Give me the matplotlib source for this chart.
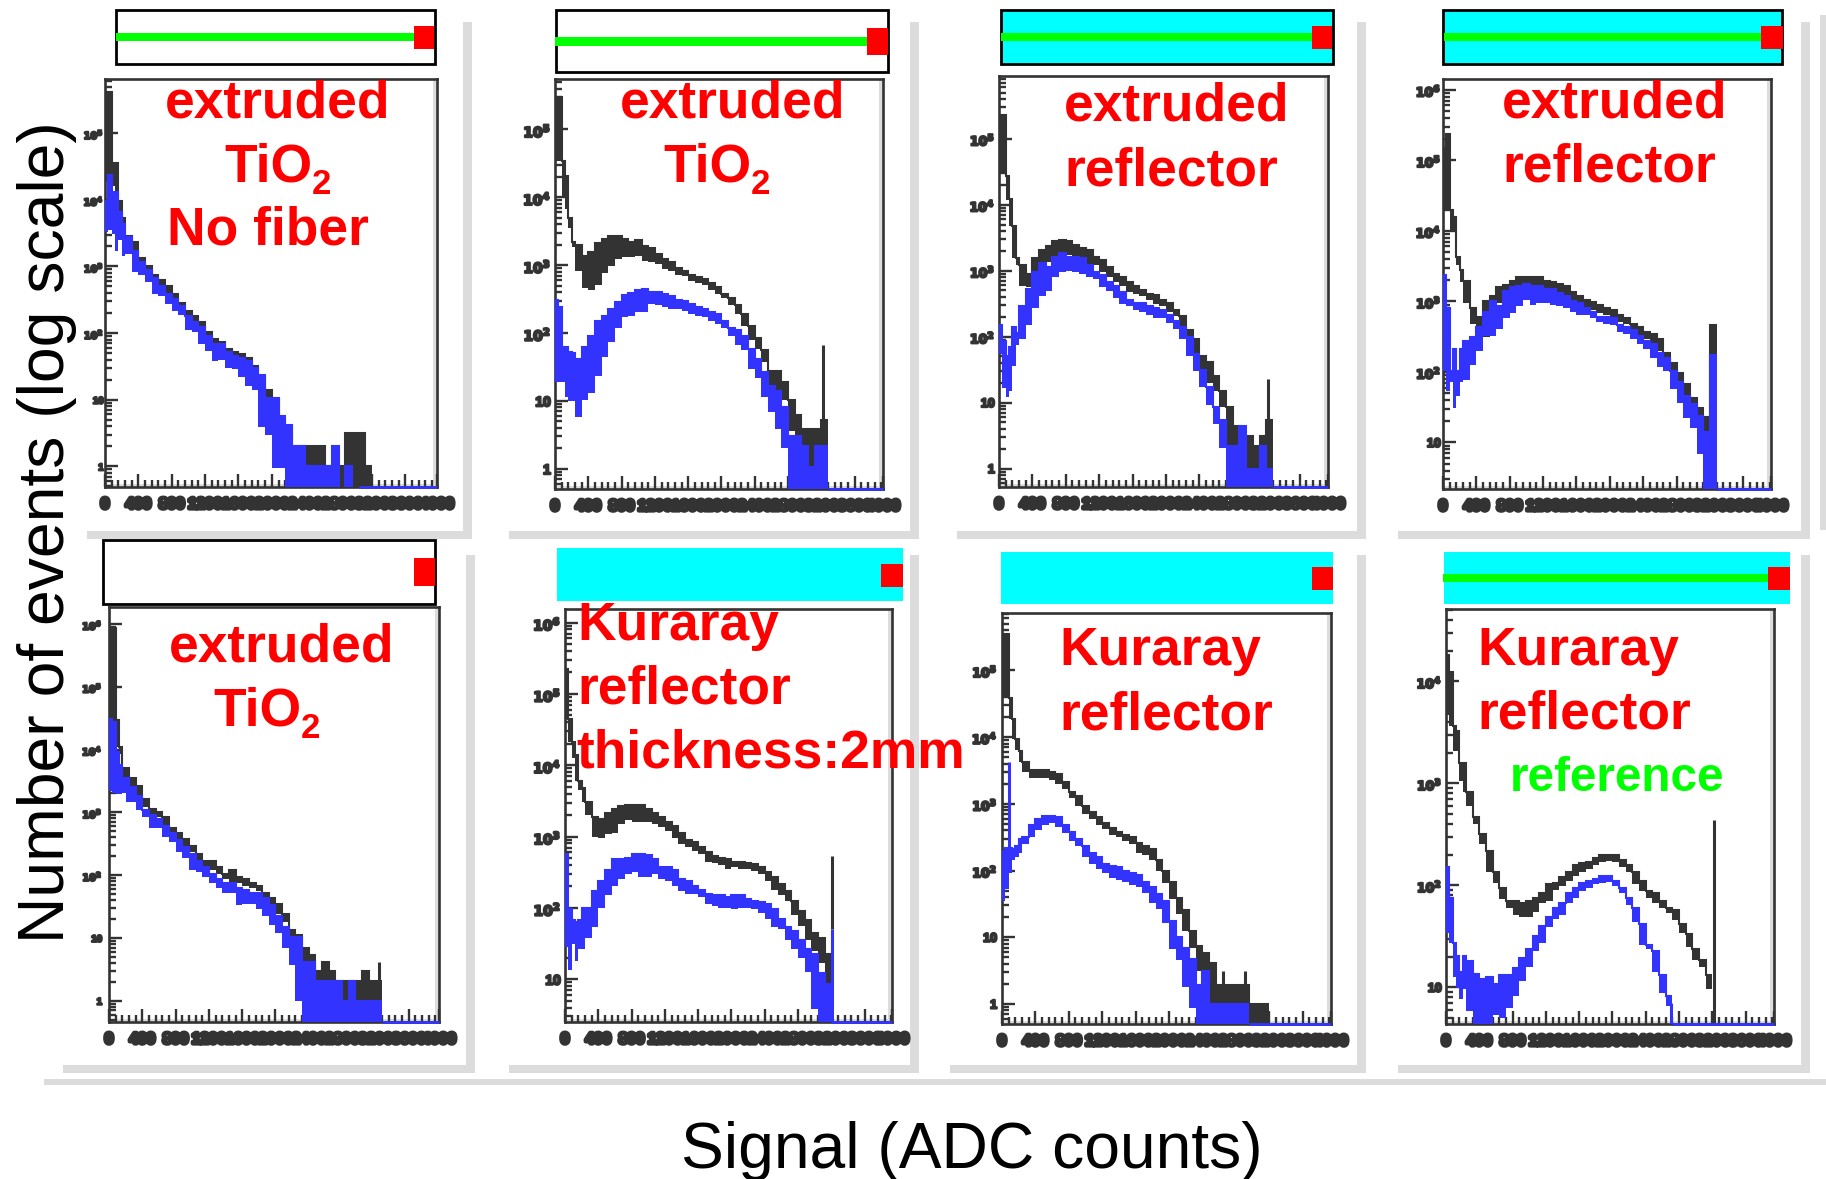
import numpy as np
import matplotlib
matplotlib.use("Agg")
import matplotlib.pyplot as plt
from matplotlib.patches import Rectangle
from matplotlib.transforms import Bbox
import matplotlib.patheffects as pe

W, H = 1826, 1179
plt.rcParams['font.family'] = ['Liberation Sans', 'DejaVu Sans']

# ---- histogram bins in ADC counts, shared by all panels
bin_edges = [0, 40, 80, 120, 160, 200, 240] + list(range(320, 4001, 80))

# log10(counts): upper / lower envelope per bin (-1 = empty bin)
p1_black_hi = [5.61,5.61,4.55,4.55,3.98,3.72,3.46,3.36,3.13,3.00,2.87,2.79,2.71,2.58,2.45,2.33,2.25,2.17,2.02,1.91,1.86,1.76,1.71,1.68,1.63,1.50,1.34,1.14,1.01,0.70,0.59,0.31,0.31,0.31,0.31,0.31,0,0,0,0.5,0.5,0.5,0]
p1_black_lo = [4.3,4.3,4.2,3.9,3.6,3.5,3.3,3.2,3.0,2.9,2.8,2.7,2.6,2.5,2.4,2.25,2.15,2.05,1.95,1.85,1.75,1.7,1.62,1.6,1.5,1.4,1.2,1.0,0.8,0.5,0.3,-1,-1,-1,-1,-1,-1,-1,-1,-1,-1,-1,-1]
p1_blue_hi = [3.98,4.37,4.11,4.11,3.82,3.64,3.44,3.23,3.07,2.95,2.82,2.71,2.58,2.51,2.40,2.25,2.17,2.09,1.96,1.83,1.83,1.71,1.65,1.63,1.58,1.47,1.37,1.03,1.03,0.75,0.62,0.31,0.31,0,0,0,0,0.31,-1,0,-1]
p1_blue_lo = [3.51,3.54,3.49,3.23,3.39,3.15,3.18,2.92,2.87,2.76,2.58,2.56,2.43,2.33,2.27,2.04,2.02,1.83,1.73,1.58,1.60,1.47,1.46,1.34,1.21,1.14,0.59,0.47,-0.02,-0.02,-1,-1,-1,-1,-1,-1,-1,-1,-1,-1,-1]

p2_black_hi = [5.47,5.47,4.53,4.31,3.70,3.34,3.29,3.14,3.19,3.32,3.39,3.43,3.43,3.39,3.34,3.37,3.28,3.25,3.17,3.09,3.04,2.96,2.91,2.86,2.82,2.79,2.73,2.67,2.58,2.51,2.41,2.28,2.10,1.93,1.75,1.44,1.44,1.27,1.01,0.79,0.58,0.58,0.58,0.71]
p2_black_lo = [4.53,4.53,4.0,3.82,3.55,3.27,2.91,2.66,2.63,2.71,2.89,2.99,3.09,3.12,3.12,3.14,3.06,3.04,3.01,2.94,2.91,2.86,2.84,2.76,2.74,2.71,2.64,2.58,2.51,2.41,2.28,2.10,1.90,1.77,1.57,1.19,1.14,1.01,0.56,0,0.33,0,0,0.33]
p2_blue_hi = [2.48,2.38,1.80,1.80,1.72,1.70,1.62,1.80,1.95,2.18,2.25,2.36,2.46,2.56,2.59,2.63,2.65,2.61,2.61,2.58,2.54,2.49,2.47,2.43,2.38,2.36,2.31,2.28,2.18,2.08,2.05,1.95,1.77,1.62,1.42,1.22,1.14,0.91,0.48,0.48,0.33,0.03,0.33,0.33]
p2_blue_lo = [1.27,1.27,1.27,1.06,0.99,0.99,0.76,1.01,1.11,1.37,1.65,1.87,2.08,2.23,2.25,2.31,2.31,2.43,2.41,2.38,2.36,2.36,2.33,2.28,2.25,2.23,2.18,2.13,2.08,1.95,1.82,1.75,1.47,1.34,1.06,0.84,0.58,0.30,-1,-1,-1,-1,-1,-1]

p3_black_hi = [5.36,5.36,4.43,4.09,3.68,3.19,3.08,2.95,3.19,3.32,3.38,3.45,3.47,3.45,3.39,3.34,3.31,3.21,3.16,3.06,2.95,2.90,2.82,2.76,2.70,2.65,2.63,2.56,2.51,2.41,2.31,2.10,1.97,1.71,1.61,1.40,1.17,0.93,0.65,0.31,0.49,0.34,0.49,0.73]
p3_black_lo = [4.46,4.46,4.07,3.68,3.19,3.08,2.77,2.75,2.90,3.06,3.13,3.19,3.24,3.24,3.21,3.19,3.08,3.08,2.98,2.90,2.82,2.77,2.67,2.64,2.62,2.56,2.49,2.46,2.38,2.31,2.15,1.94,1.71,1.48,1.30,1.17,0.93,0.31,-1,-1,0,-1,0,0]
p3_blue_hi = [2.18,1.94,1.71,1.84,2.15,2.05,2.46,2.72,2.98,3.11,3.06,3.21,3.26,3.21,3.21,3.19,3.08,2.98,2.93,2.82,2.77,2.67,2.56,2.51,2.51,2.46,2.44,2.41,2.33,2.23,2.15,1.99,1.74,1.50,1.24,0.93,0.73,0.34,0.34,0.65,0,0,0.34,0]
p3_blue_lo = [1.74,1.22,1.09,1.17,1.55,1.87,1.97,2.18,2.44,2.62,2.69,2.90,2.98,3.00,2.98,2.95,2.90,2.87,2.75,2.69,2.59,2.49,2.46,2.41,2.38,2.33,2.28,2.28,2.20,2.12,1.97,1.71,1.48,1.24,0.96,0.67,0.31,-1,-1,-1,-1,-1,-1,-1]

p4_black_hi = [5.17,5.37,4.29,4.20,3.63,3.44,3.29,2.90,2.78,3.00,3.07,3.20,3.23,3.29,3.34,3.34,3.35,3.34,3.29,3.27,3.24,3.22,3.13,3.07,3.02,2.99,2.95,2.90,2.88,2.80,2.77,2.68,2.63,2.56,2.54,2.46,2.27,2.12,1.98,1.83,1.63,1.49,1.36,2.66]
p4_black_lo = [4.29,4.29,4.00,4.00,3.51,3.27,2.98,2.68,2.59,2.49,2.88,2.98,2.98,3.07,3.12,3.12,3.12,3.15,3.15,3.12,3.07,3.07,3.00,2.98,2.90,2.88,2.83,2.80,2.76,2.71,2.68,2.59,2.51,2.46,2.41,2.29,2.10,2.02,1.78,1.56,1.41,1.24,1.15,2.24]
p4_blue_hi = [3.37,2.90,2.02,2.32,2.02,2.32,2.44,2.49,2.63,2.85,3.00,2.93,3.15,3.20,3.22,3.24,3.22,3.22,3.17,3.17,3.12,3.07,3.00,2.98,2.90,2.85,2.78,2.78,2.76,2.66,2.63,2.59,2.51,2.44,2.39,2.27,2.20,2.02,1.85,1.66,1.54,1.37,1.15,2.24]
p4_blue_lo = [2.02,1.73,1.85,1.49,1.66,1.85,1.88,2.10,2.29,2.51,2.51,2.61,2.76,2.83,2.93,3.02,2.95,2.98,2.98,2.95,2.93,2.90,2.85,2.80,2.80,2.76,2.71,2.68,2.66,2.56,2.54,2.46,2.39,2.32,2.20,2.07,2.02,1.76,1.56,1.34,1.20,0.83,-1,-1]

p5_black_hi = [5.93,5.93,4.47,4.04,3.71,3.71,3.54,3.42,3.21,3.06,3.01,2.92,2.75,2.67,2.58,2.47,2.33,2.22,2.22,2.13,2.02,2.08,1.97,1.94,1.88,1.83,1.71,1.63,1.54,1.38,1.13,1.04,0.84,0.73,0.48,0.61,0.48,0.31,0.31,0.31,0.31,0.48,0.31,0.31]
p5_black_lo = [4.44,4.44,4.04,3.93,3.54,3.48,3.31,3.20,3.09,2.92,2.92,2.78,2.64,2.58,2.47,2.36,2.22,2.13,2.08,2.02,1.94,1.88,1.88,1.83,1.80,1.74,1.63,1.52,1.38,1.26,1.01,0.84,0,0.45,0,0,0,0,0,0,-1,-1,-1,-1]
p5_blue_hi = [4.49,4.44,3.96,3.76,3.54,3.54,3.40,3.26,3.03,2.95,2.89,2.78,2.67,2.56,2.44,2.33,2.22,2.13,2.02,1.94,1.88,1.88,1.80,1.77,1.71,1.71,1.63,1.52,1.35,1.18,1.01,1.01,0.62,0.62,0.31,0.31,0.31,0.31,0,0.31,0,0,0,0]
p5_blue_lo = [3.34,3.31,3.29,3.29,3.31,3.17,3.17,3.03,2.92,2.75,2.75,2.61,2.53,2.36,2.28,2.08,2.05,1.97,1.88,1.80,1.71,1.71,1.52,1.54,1.54,1.46,1.35,1.21,1.07,0.84,0.56,0,-1,-1,-1,-1,-1,-1,-1,-1,-1,-1,-1,-1]

p6_black_hi = [5.35,4.65,4.33,4.15,3.78,3.68,3.48,3.28,3.25,3.33,3.38,3.43,3.44,3.44,3.44,3.38,3.33,3.28,3.20,3.15,3.05,2.95,2.93,2.85,2.78,2.73,2.70,2.68,2.65,2.65,2.63,2.61,2.58,2.50,2.43,2.33,2.23,2.10,1.95,1.83,1.65,1.58,1.35]
p6_black_lo = [4.65,4.33,4.10,3.78,3.65,3.48,3.30,3.00,2.98,3.03,3.05,3.18,3.23,3.20,3.20,3.20,3.18,3.13,3.08,2.98,2.90,2.85,2.80,2.75,2.65,2.63,2.60,2.55,2.58,2.55,2.55,2.51,2.48,2.38,2.25,2.18,2.10,1.90,1.75,1.55,1.40,1.23,0.73]
p6_blue_hi = [2.75,1.98,1.83,1.80,1.83,2.00,2.00,2.23,2.38,2.53,2.68,2.68,2.70,2.75,2.75,2.74,2.68,2.58,2.58,2.53,2.40,2.38,2.30,2.25,2.20,2.18,2.18,2.15,2.18,2.18,2.13,2.10,2.08,2.05,1.98,1.85,1.73,1.68,1.55,1.43,1.35,1.08,0.93]
p6_blue_lo = [1.45,1.13,1.50,1.25,1.43,1.43,1.58,1.73,2.00,2.18,2.30,2.40,2.48,2.50,2.43,2.43,2.48,2.40,2.38,2.30,2.23,2.20,2.20,2.15,2.05,2.03,2.00,2.00,1.98,2.00,2.00,1.98,1.93,1.85,1.73,1.70,1.55,1.43,1.30,1.10,0.58,-1,-1]

p7_black_hi = [5.55,5.55,4.59,4.27,3.97,3.79,3.63,3.51,3.51,3.51,3.47,3.44,3.33,3.17,3.12,2.96,2.88,2.80,2.72,2.64,2.58,2.53,2.50,2.42,2.37,2.32,2.16,2.00,1.83,1.59,1.41,1.09,0.87,0.76,0.62,0.28,0.28,0.28,0.28,0.28,0,0,0]
p7_black_lo = [4.59,4.59,4.27,3.97,3.81,3.63,3.47,3.39,3.39,3.39,3.36,3.30,3.22,3.09,2.96,2.85,2.77,2.69,2.63,2.53,2.50,2.45,2.40,2.26,2.24,2.16,2.00,1.81,1.57,1.35,1.09,0.84,0.50,0.28,0,0,0,-1,-1,-1,-1,-1,-1]
p7_blue_hi = [2.29,2.34,2.34,2.32,2.37,2.48,2.50,2.69,2.77,2.81,2.81,2.80,2.69,2.58,2.48,2.37,2.26,2.21,2.10,2.07,2.05,2.00,1.97,1.94,1.83,1.75,1.65,1.54,1.25,1.01,0.84,0.68,0.28,0.50,0,0,0,0,0,0]
p7_blue_lo = [1.54,1.73,1.97,2.16,2.21,2.26,2.40,2.50,2.61,2.69,2.72,2.66,2.56,2.45,2.37,2.21,2.10,2.02,1.97,1.89,1.86,1.83,1.79,1.75,1.67,1.51,1.43,1.22,0.82,0.66,0.26,-0.06,-1,-1,-1,-1,-1,-1,-1,-1]

p8_black_hi = [4.26,4.09,3.56,3.51,3.20,3.20,2.92,2.67,2.50,2.34,2.13,1.97,1.85,1.85,1.83,1.85,1.88,1.92,2.01,2.02,2.08,2.13,2.20,2.22,2.23,2.27,2.30,2.30,2.30,2.25,2.20,2.13,2.04,1.94,1.92,1.85,1.78,1.76,1.62,1.52,1.38,1.27,1.12]
p8_black_lo = [3.67,3.56,3.32,3.32,3.02,2.92,2.78,2.60,2.41,2.13,2.02,1.87,1.78,1.71,1.69,1.69,1.74,1.83,1.85,1.95,1.99,2.04,2.09,2.13,2.16,2.20,2.23,2.24,2.23,2.18,2.13,2.01,1.94,1.88,1.83,1.78,1.73,1.66,1.53,1.40,1.27,1.20,0.98]
p8_blue_hi = [2.18,1.88,1.43,1.31,1.15,1.31,1.26,1.13,1.08,1.10,1.03,1.12,1.12,1.19,1.29,1.38,1.50,1.60,1.69,1.78,1.83,1.92,1.97,2.02,2.04,2.06,2.09,2.09,2.04,1.97,1.88,1.78,1.62,1.41,1.36,1.12,0.91]
p8_blue_lo = [1.53,1.43,1.10,0.99,0.89,0.98,0.77,-1,-1,-1,0.73,0.70,0.80,0.91,1.06,1.20,1.36,1.43,1.59,1.67,1.71,1.83,1.88,1.94,1.97,2.01,2.02,2.03,1.99,1.92,1.81,1.64,1.41,1.38,1.15,0.94,0.82]

# narrow single-bin spikes: (ADC, log10 low, log10 high)
p2_spikes_black = [(3220, 0.33, 1.82)]
p3_spikes_black = [(3216, 0.73, 1.35)]
p5_spikes_black = [(3244, 0.31, 0.61)]
p6_spikes_black = [(3212, 1.70, 2.73)]
p6_spikes_blue = [(3212, -1, 1.70)]
p7_spikes_black = [(2652, 0.28, 0.50), (2912, 0.28, 0.50)]
p7_spikes_blue = [(80, 2.30, 3.63)]
p8_spikes_black = [(3220, 0.60, 2.64)]
p8_spikes_blue = [(2708, -1, 0.85)]

# axis ranges
x_limits = [3980, 3940, 3940, 3932, 3964, 3928, 3940, 3940]
y_limits = [(-0.31, 5.82), (-0.30, 5.75), (-0.28, 5.95), (0.34, 6.16),
            (-0.34, 6.27), (0.40, 6.19), (-0.30, 5.86), (0.64, 4.71)]
decades = [range(0, 6), range(0, 6), range(0, 6), range(1, 7),
           range(0, 7), range(1, 7), range(0, 6), range(1, 5)]
x_ticks = list(range(400, 3700, 400))
x_tick_labels = [str(v) for v in x_ticks]
y_label_size = [7, 10, 9, 9, 7, 10, 9, 9]
y_label_pad = [1, 3, 3, 1.5, 5, 3, 3.5, 3]

# ---- layout in reference pixels
ax_px = [(105, 437, 78.5, 487), (555, 883, 78.5, 489), (999, 1328, 76, 487), (1443, 1771, 78.5, 489),
         (109, 439, 607, 1022), (565, 892, 609, 1022), (1002, 1331, 613, 1024), (1446, 1774, 609, 1024)]

# header: box, framed, fill, green line (y0,y1,x0,x1) or None, red square
headers = [
    ((116, 435, 10.3, 63.7), True, 'white', (33.4, 40.6, 116, 414), (414, 434, 25.8, 48.5)),
    ((556, 888, 10.3, 72), True, 'white', (36.8, 45.8, 555, 867), (867, 888, 27.5, 55)),
    ((1001, 1333, 10.3, 63.7), True, '#00FFFF', (33.4, 40.6, 1001, 1312), (1312, 1332, 25.8, 48.5)),
    ((1443, 1782, 10.3, 63.7), True, '#00FFFF', (33.4, 40.6, 1444, 1761), (1761, 1783, 25.8, 48.5)),
    ((103, 435, 540, 604), True, 'white', None, (414, 435, 558, 586)),
    ((557, 903, 548.5, 601), False, '#00FFFF', None, (881, 903, 564, 587)),
    ((1001, 1333, 552, 604), False, '#00FFFF', None, (1312, 1333, 567, 590)),
    ((1444, 1790, 552, 604), False, '#00FFFF', (574, 582, 1443, 1768), (1768, 1790, 567, 590)),
]

# grey drop-shadow bars: x0, x1, y0, y1
shadows = [
    (463, 472, 22, 539), (87, 472, 531, 539),
    (910, 919, 22, 539), (509, 919, 531, 539),
    (1357, 1366, 22, 539), (957, 1366, 531, 539),
    (1801, 1810, 22, 539), (1398, 1810, 531, 539),
    (1820, 1826, 15, 530),
    (466, 475, 555, 1073), (63, 475, 1065, 1073),
    (910, 919, 555, 1073), (509, 919, 1065, 1073),
    (1357, 1366, 555, 1073), (950, 1366, 1065, 1073),
    (1801, 1810, 555, 1073), (1398, 1810, 1065, 1073),
    (44, 1826, 1079, 1085),
]

RED, GREEN, DARK, BLUE = '#FF0000', '#00FF00', '#333333', '#3333FF'
# panel labels: text, x, baseline y, size, colour, clip-top y
labels = [
    ('extruded', 165, 117, 38.4, RED, 80), ('TiO', 224, 181, 38.4, RED, None), ('2', 312, 194.5, 25, RED, None),
    ('No fiber', 167, 244.5, 38.4, RED, None),
    ('extruded', 620, 117, 38.4, RED, 80), ('TiO', 663, 181, 38.4, RED, None), ('2', 751, 194.5, 25, RED, None),
    ('extruded', 1064, 120.5, 38.4, RED, None), ('reflector', 1064, 185, 38.4, RED, None),
    ('extruded', 1502, 117, 38.4, RED, 80), ('reflector', 1502, 181, 38.4, RED, None),
    ('extruded', 169, 661, 38.4, RED, None), ('TiO', 213, 725, 38.4, RED, None), ('2', 301, 738, 25, RED, None),
    ('Kuraray', 577, 640, 38.4, RED, 601), ('reflector', 577, 704, 38.4, RED, None),
    ('thickness:2mm', 576, 767, 38.4, RED, None),
    ('Kuraray', 1059, 665.5, 38.4, RED, None), ('reflector', 1059, 730, 38.4, RED, None),
    ('Kuraray', 1477, 665, 38.4, RED, None), ('reflector', 1477, 728.6, 38.4, RED, None),
    ('reference', 1510, 791, 34.3, GREEN, None),
]

panels = [
    (p1_black_hi, p1_black_lo, p1_blue_hi, p1_blue_lo, [], []),
    (p2_black_hi, p2_black_lo, p2_blue_hi, p2_blue_lo, p2_spikes_black, []),
    (p3_black_hi, p3_black_lo, p3_blue_hi, p3_blue_lo, p3_spikes_black, []),
    (p4_black_hi, p4_black_lo, p4_blue_hi, p4_blue_lo, [], []),
    (p5_black_hi, p5_black_lo, p5_blue_hi, p5_blue_lo, p5_spikes_black, []),
    (p6_black_hi, p6_black_lo, p6_blue_hi, p6_blue_lo, p6_spikes_black, p6_spikes_blue),
    (p7_black_hi, p7_black_lo, p7_blue_hi, p7_blue_lo, p7_spikes_black, p7_spikes_blue),
    (p8_black_hi, p8_black_lo, p8_blue_hi, p8_blue_lo, p8_spikes_black, p8_spikes_blue),
]

fig = plt.figure(figsize=(W / 100, H / 100), dpi=100, facecolor='white')


def frect(x0, x1, y0, y1, **kw):
    r = Rectangle((x0 / W, 1 - y1 / H), (x1 - x0) / W, (y1 - y0) / H,
                  transform=fig.transFigure, linewidth=kw.pop('lw', 0), **kw)
    fig.add_artist(r)
    return r


for s in shadows:
    frect(*s, color='#DCDCDC', zorder=-1)

ystroke = [pe.withStroke(linewidth=1.6, foreground=DARK)]
xstroke = [pe.withStroke(linewidth=3.2, foreground=DARK)]
edges = np.array(bin_edges, float)

for i, (bhi, blo, uhi, ulo, sb, su) in enumerate(panels):
    l, r, t, b = ax_px[i]
    ax = fig.add_axes([l / W, 1 - b / H, (r - l) / W, (b - t) / H], facecolor='white', zorder=0)
    ax.set_yscale('log')
    ymin, ymax = y_limits[i]
    ax.set_xlim(0, x_limits[i])
    ax.set_ylim(10 ** ymin, 10 ** ymax)

    # light inner edge
    ax.add_patch(Rectangle((0, 0), 1, 0.007, transform=ax.transAxes, color='#DCDCDC', lw=0, zorder=0.5))
    ax.add_patch(Rectangle((0.988, 0), 0.012, 1, transform=ax.transAxes, color='#DCDCDC', lw=0, zorder=0.5))

    for hi, lo, col, spikes, z in ((bhi, blo, DARK, sb, 2.2), (uhi, ulo, BLUE, su, 2.6)):
        hi = np.array(hi, float)
        lo = np.array(lo, float)
        e = edges[:len(hi) + 1]
        ax.stairs(10 ** hi, e, baseline=10 ** lo, fill=True, color=col, lw=0, zorder=z)
        ax.stairs(10 ** hi, e, baseline=None, fill=False, color=col, lw=1.5, zorder=z)
        for (sx, s0, s1) in spikes:
            ax.vlines(sx, 10 ** s0, 10 ** s1, color=col, lw=2.2, zorder=z)
    ax.hlines(10 ** ymin, edges[len(uhi)], x_limits[i], color=BLUE, lw=2.0, zorder=2.7, clip_on=False)

    for sp in ax.spines.values():
        sp.set_color(DARK)
        sp.set_linewidth(1.9)

    ax.set_xticks([0] + x_ticks + [x_limits[i]])
    ax.set_xticklabels(['0'] + x_tick_labels + ['4000'], fontsize=11, fontweight='bold', color=DARK)
    ax.set_xticks(np.arange(0, x_limits[i], 80), minor=True)
    dec = list(decades[i])
    ax.set_yticks([10.0 ** d for d in dec])
    ax.set_yticklabels(['1' if d == 0 else '10' if d == 1 else r'$\mathbf{10^{%d}}$' % d for d in dec],
                       fontsize=y_label_size[i], fontweight='bold', color=DARK)
    ax.yaxis.set_minor_locator(matplotlib.ticker.LogLocator(base=10, subs=range(2, 10), numticks=20))
    ax.yaxis.set_minor_formatter(matplotlib.ticker.NullFormatter())
    ax.tick_params(which='major', direction='in', length=9.4, width=1.7, color=DARK)
    ax.tick_params(which='minor', direction='in', length=5, width=1.7, color=DARK)
    ax.tick_params(axis='x', which='major', pad=7.5)
    ax.tick_params(axis='y', which='major', pad=y_label_pad[i])
    for lab in ax.get_xticklabels():
        lab.set_path_effects(xstroke)
    for lab in ax.get_yticklabels():
        lab.set_path_effects(ystroke)

for box, framed, fill, green, red in headers:
    x0, x1, y0, y1 = box
    frect(x0, x1, y0, y1, facecolor=fill, edgecolor='black' if framed else fill,
          lw=2.0 if framed else 0, zorder=1)
    if green:
        frect(green[2], green[3], green[0], green[1], color=GREEN, zorder=1.1)
    frect(red[0], red[1], red[2], red[3], color=RED, zorder=1.2)

for txt, x, y, size, col, clip in labels:
    t = fig.text(x / W, 1 - y / H, txt, color=col, fontsize=size, fontweight='bold',
                 ha='left', va='baseline', zorder=3)
    if clip is not None:
        t.set_clip_box(Bbox([[0, 0], [W, H - clip]]))
        t.set_clip_on(True)

fig.text(681 / W, 1 - 1168 / H, 'Signal (ADC counts)', fontsize=46.2, color='black',
         ha='left', va='baseline', zorder=3)
fig.text(64 / W, 1 - 943 / H, 'Number of events (log scale)', fontsize=46.3, color='black',
         rotation=90, rotation_mode='anchor', ha='left', va='baseline', zorder=3)

fig.savefig('out.png', dpi=100)
